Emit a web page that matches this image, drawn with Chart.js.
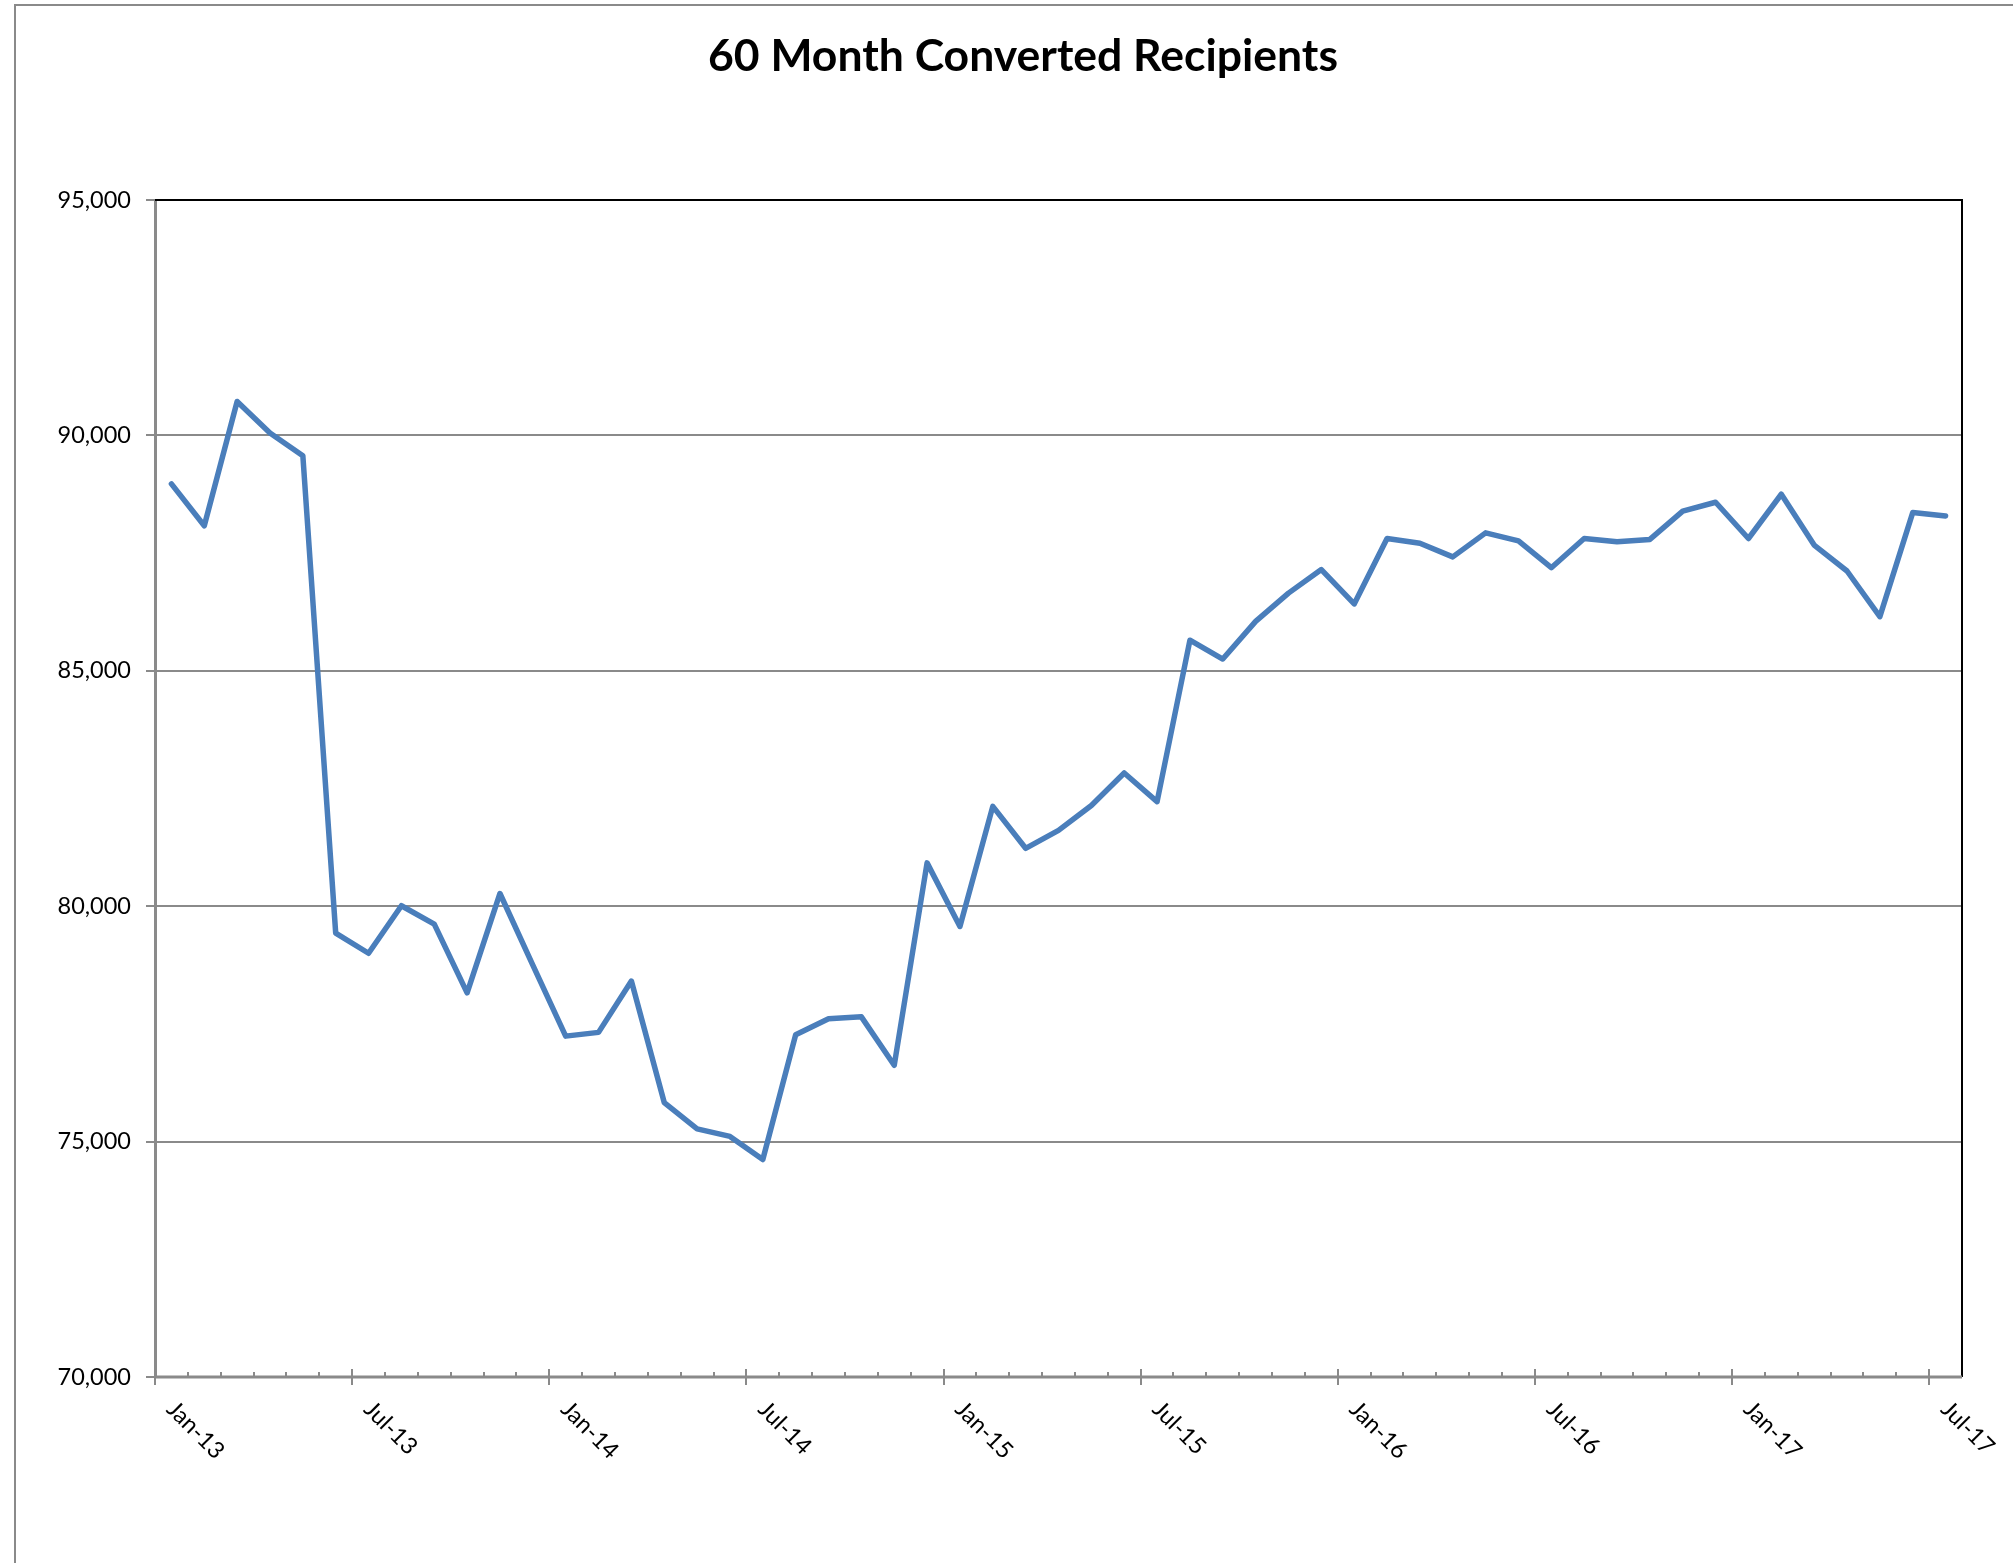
<!DOCTYPE html>
<html>
<head>
<meta charset="utf-8">
<title>60 Month Converted Recipients</title>
<script src="https://cdn.jsdelivr.net/npm/chart.js@4.4.1/dist/chart.umd.min.js"></script>
<style>
  html, body { margin: 0; padding: 0; background: #fff; }
  #wrap { width: 2013px; height: 1563px; position: relative; }
</style>
</head>
<body>
<div id="wrap"><canvas id="recipientsChart"></canvas></div>
<script>
const MONTHS = ["Jan", "Feb", "Mar", "Apr", "May", "Jun", "Jul", "Aug", "Sep", "Oct", "Nov", "Dec"];
const YEARS = ["13", "14", "15", "16", "17"];
const MONTH_COUNT = 55; // Jan-13 .. Jul-17

// converted recipients per month, Jan-13 onwards
const recipients = [
    88970, 88080, 90720, 90050, 89570, 79430, 79000, 80010, 79620, 78160, 80270, 78750,
    77240, 77320, 78410, 75830, 75270, 75110, 74620, 77270, 77610, 77650, 76620, 80920,
    79570, 82120, 81230, 81610, 82140, 82830, 82220, 85650, 85250, 86050, 86650, 87150,
    86420, 87810, 87710, 87420, 87930, 87760, 87190, 87810, 87740, 87790, 88390, 88580,
    87810, 88750, 87670, 87120, 86150, 88360, 88290
];

const yTicks = [70000, 75000, 80000, 85000, 90000, 95000];
const xTickLabels = ["Jan-13", "Jul-13", "Jan-14", "Jul-14", "Jan-15", "Jul-15", "Jan-16", "Jul-16", "Jan-17", "Jul-17"];
const TITLE = "60 Month Converted Recipients";

const categories = [];
for (let i = 0; i < MONTH_COUNT; i++) {
    categories.push(MONTHS[i % 12] + "-" + YEARS[Math.floor(i / 12)]);
}

const AXIS_GREY = "#8a8a8a";
const LABEL_FONT = "23.5px Lato";
const FRAME = { left: 15, top: 5, right: 2031 }; // outer chart frame runs past the page edge

// frame, title, plot border and the month axis (ticks between categories, rotated labels)
const excelAxes = {
    id: "excelAxes",
    beforeDraw(chart) {
        const ctx = chart.ctx;
        ctx.save();
        ctx.strokeStyle = AXIS_GREY;
        ctx.lineWidth = 2;
        ctx.beginPath();
        ctx.moveTo(FRAME.left, chart.height + 10);
        ctx.lineTo(FRAME.left, FRAME.top);
        ctx.lineTo(FRAME.right, FRAME.top);
        ctx.stroke();

        // title is centred on the whole frame, not on the plot
        ctx.fillStyle = "#000";
        ctx.font = "bold 44.5px Lato";
        ctx.textAlign = "center";
        ctx.textBaseline = "middle";
        ctx.fillText(TITLE, (FRAME.left + FRAME.right) / 2, 57);
        ctx.restore();
    },
    afterDraw(chart) {
        const ctx = chart.ctx;
        const area = chart.chartArea;
        const x = chart.scales.x;
        const step = x.getPixelForValue(1) - x.getPixelForValue(0);
        const boundary = i => x.getPixelForValue(i) - step / 2;

        ctx.save();
        // black plot border on top and right
        ctx.strokeStyle = "#000";
        ctx.lineWidth = 2;
        ctx.beginPath();
        ctx.moveTo(area.left, area.top);
        ctx.lineTo(area.right, area.top);
        ctx.lineTo(area.right, area.bottom);
        ctx.stroke();

        // horizontal axis
        ctx.strokeStyle = AXIS_GREY;
        ctx.lineWidth = 3;
        ctx.beginPath();
        ctx.moveTo(area.left, area.bottom);
        ctx.lineTo(area.right, area.bottom);
        ctx.stroke();

        ctx.lineWidth = 2;
        for (let i = 0; i < categories.length; i++) {
            const px = Math.round(boundary(i));
            const major = i % 6 === 0;
            ctx.beginPath();
            ctx.moveTo(px, area.bottom - (major ? 8 : 5));
            ctx.lineTo(px, area.bottom + (major ? 8 : 0));
            ctx.stroke();
        }

        ctx.fillStyle = "#000";
        ctx.font = LABEL_FONT;
        ctx.textAlign = "left";
        ctx.textBaseline = "top";
        xTickLabels.forEach(label => {
            const i = categories.indexOf(label);
            const px = boundary(i);
            ctx.save();
            ctx.translate(px + 24, area.bottom + 20);
            ctx.rotate(Math.PI / 4);
            ctx.fillText(label, 0, 0);
            ctx.restore();
        });
        ctx.restore();
    }
};

new Chart(document.getElementById("recipientsChart"), {
    type: "line",
    data: {
        labels: categories,
        datasets: [{
            label: "Recipients",
            data: recipients,
            borderColor: "#4a7ebb",
            borderWidth: 5.5,
            borderJoinStyle: "round",
            borderCapStyle: "round",
            pointRadius: 0,
            tension: 0,
            fill: false
        }]
    },
    options: {
        responsive: true,
        maintainAspectRatio: false,
        animation: false,
        layout: { padding: { left: 0, right: 51, top: 200, bottom: 0 } },
        plugins: {
            legend: { display: false },
            tooltip: { enabled: false },
            title: { display: false }
        },
        scales: {
            x: {
                type: "category",
                offset: true,
                grid: { display: false },
                border: { display: false },
                ticks: { display: false },
                afterFit(scale) { scale.height = 186; }
            },
            y: {
                min: yTicks[0],
                max: yTicks[yTicks.length - 1],
                afterBuildTicks(scale) {
                    scale.ticks = yTicks.map(v => ({ value: v }));
                },
                afterFit(scale) { scale.width = 155; },
                grid: {
                    color: AXIS_GREY,
                    lineWidth: 2,
                    drawTicks: true,
                    tickLength: 9
                },
                border: { display: true, color: AXIS_GREY, width: 3 },
                ticks: {
                    color: "#000",
                    padding: 15,
                    font: { family: "Lato", size: 23.5 },
                    callback: v => v.toLocaleString("en-US")
                }
            }
        }
    },
    plugins: [excelAxes]
});
</script>
</body>
</html>
